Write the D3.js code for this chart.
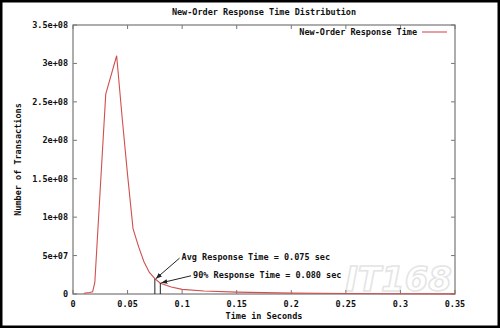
<!DOCTYPE html>
<html>
<head>
<meta charset="utf-8">
<script src="https://cdn.jsdelivr.net/npm/d3@7"></script>
<style>
body { margin: 0; background: #fff; }
text { font-family: "DejaVu Sans Mono", monospace; font-weight: bold; font-size: 8.5px; fill: #111; }
</style>
</head>
<body>
<div id="chart"></div>
<script>
var w = 500, h = 328;
var margin = {left: 73, right: 45, top: 25, bottom: 34};

// response time (seconds) and number of transactions
var times = [0.01, 0.015, 0.018, 0.02, 0.03, 0.04, 0.045, 0.05, 0.055, 0.06, 0.065, 0.07, 0.075, 0.08, 0.09, 0.1, 0.12, 0.15, 0.2, 0.25, 0.3, 0.35];
var counts = [1e6, 2e6, 3e6, 1.5e7, 2.6e8, 3.1e8, 2.3e8, 1.55e8, 8.5e7, 6.2e7, 4.2e7, 2.8e7, 2.0e7, 1.4e7, 9e6, 6e6, 4e6, 2.5e6, 1.2e6, 6e5, 3e5, 1e5];

var xTicks = [0, 0.05, 0.1, 0.15, 0.2, 0.25, 0.3, 0.35];
var yTicks = [0, 5e7, 1e8, 1.5e8, 2e8, 2.5e8, 3e8, 3.5e8];
var yTickLabels = ["0", "5e+07", "1e+08", "1.5e+08", "2e+08", "2.5e+08", "3e+08", "3.5e+08"];

var markers = [
    {label: "Avg Response Time = 0.075 sec", t: 0.075, v: 2.0e7, tx: 0.0995, ty: 4.8e7},
    {label: "90% Response Time = 0.080 sec", t: 0.080, v: 1.45e7, tx: 0.110, ty: 2.5e7}
];

var data = times.map(function(t, i) { return {t: t, v: counts[i]}; });

var xScale = d3.scaleLinear().domain([0, 0.35]).range([margin.left, w - margin.right]);
var yScale = d3.scaleLinear().domain([0, 3.5e8]).range([h - margin.bottom, margin.top]);

var svg = d3.select("#chart").append("svg")
    .attr("width", w)
    .attr("height", h);

svg.append("rect").attr("width", w).attr("height", h).attr("fill", "#fff");

// watermark
svg.append("text")
    .attr("x", 452).attr("y", 291)
    .attr("text-anchor", "end")
    .style("font-family", "DejaVu Sans")
    .style("font-style", "italic")
    .style("font-size", "34px")
    .style("fill", "none")
    .attr("stroke", "#e4e4e4")
    .attr("stroke-width", 1.5)
    .text("IT168");

// axes with inward ticks, mirrored on top and right
var axisColor = "#777";
var x0 = xScale.range(), y0 = yScale.range();

svg.append("rect")
    .attr("x", x0[0]).attr("y", y0[1])
    .attr("width", x0[1] - x0[0]).attr("height", y0[0] - y0[1])
    .attr("fill", "none").attr("stroke", axisColor).attr("stroke-width", 1.2);

svg.selectAll(".xt").data(xTicks).enter().append("path")
    .attr("d", function(d) {
        var x = xScale(d);
        return "M" + x + "," + y0[0] + "v-4M" + x + "," + y0[1] + "v4";
    })
    .attr("stroke", axisColor);

svg.selectAll(".yt").data(yTicks).enter().append("path")
    .attr("d", function(d) {
        var y = yScale(d);
        return "M" + x0[0] + "," + y + "h4M" + x0[1] + "," + y + "h-4";
    })
    .attr("stroke", axisColor);

svg.selectAll(".xl").data(xTicks).enter().append("text")
    .attr("x", function(d) { return xScale(d); })
    .attr("y", y0[0] + 13)
    .attr("text-anchor", "middle")
    .text(function(d) { return String(d); });

svg.selectAll(".yl").data(yTicks).enter().append("text")
    .attr("x", x0[0] - 5)
    .attr("y", function(d) { return yScale(d) + 3; })
    .attr("text-anchor", "end")
    .text(function(d, i) { return yTickLabels[i]; });

// titles
svg.append("text")
    .attr("x", (x0[0] + x0[1]) / 2).attr("y", 15)
    .attr("text-anchor", "middle")
    .text("New-Order Response Time Distribution");

svg.append("text")
    .attr("x", (x0[0] + x0[1]) / 2).attr("y", 319)
    .attr("text-anchor", "middle")
    .text("Time in Seconds");

svg.append("text")
    .attr("transform", "translate(21," + ((y0[0] + y0[1]) / 2) + ") rotate(-90)")
    .attr("text-anchor", "middle")
    .text("Number of Transactions");

// curve
var line = d3.line()
    .x(function(d) { return xScale(d.t); })
    .y(function(d) { return yScale(d.v); });

svg.append("path")
    .datum(data)
    .attr("d", line)
    .attr("fill", "none")
    .attr("stroke", "#d05050")
    .attr("stroke-width", 1.1);

// legend
svg.append("text")
    .attr("x", 417).attr("y", 35)
    .attr("text-anchor", "end")
    .text("New-Order Response Time");
svg.append("line")
    .attr("x1", 422).attr("x2", 447).attr("y1", 32).attr("y2", 32)
    .attr("stroke", "#d05050").attr("stroke-width", 1.1);

// markers
svg.append("defs").append("marker")
    .attr("id", "arrow")
    .attr("viewBox", "0 0 10 10")
    .attr("refX", 10).attr("refY", 5)
    .attr("markerWidth", 6).attr("markerHeight", 6)
    .attr("orient", "auto")
    .append("path").attr("d", "M0,1L10,5L0,9z").attr("fill", "#222");

svg.selectAll(".mk").data(markers).enter().append("line")
    .attr("x1", function(d) { return xScale(d.t); })
    .attr("x2", function(d) { return xScale(d.t); })
    .attr("y1", yScale(0))
    .attr("y2", function(d) { return yScale(d.v); })
    .attr("stroke", "#222");

svg.selectAll(".ar").data(markers).enter().append("line")
    .attr("x1", function(d) { return xScale(d.tx) - 2; })
    .attr("y1", function(d) { return yScale(d.ty) + 1; })
    .attr("x2", function(d) { return xScale(d.t) + 1; })
    .attr("y2", function(d) { return yScale(d.v); })
    .attr("stroke", "#222")
    .attr("marker-end", "url(#arrow)");

svg.selectAll(".at").data(markers).enter().append("text")
    .attr("x", function(d) { return xScale(d.tx); })
    .attr("y", function(d) { return yScale(d.ty) + 3; })
    .text(function(d) { return d.label; });

// outer frame
svg.append("rect")
    .attr("x", 1).attr("y", 1).attr("width", w - 2).attr("height", h - 2)
    .attr("fill", "none").attr("stroke", "#000").attr("stroke-width", 3);
</script>
</body>
</html>
